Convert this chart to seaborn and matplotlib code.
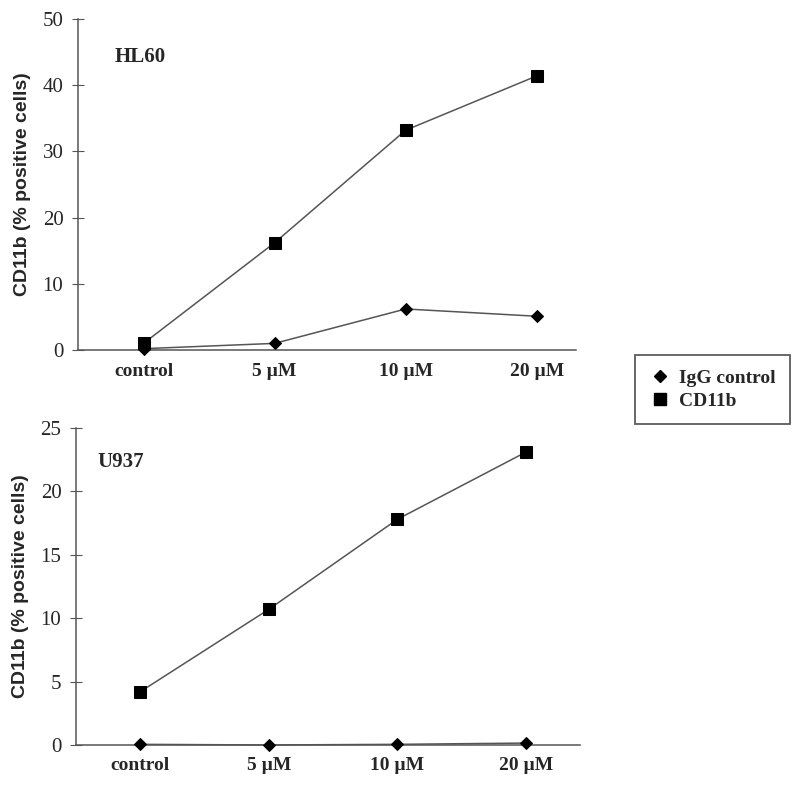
import numpy as np
import pandas as pd
import matplotlib
matplotlib.use('Agg')
import matplotlib.pyplot as plt
import seaborn as sns
from matplotlib.lines import Line2D

sns.set_style('white')
plt.rcParams['font.family'] = ['Liberation Serif', 'DejaVu Serif']

doses = ['control', '5 µM', '10 µM', '20 µM']
series_names = ['IgG control', 'CD11b']

hl60_igg = [0.2, 1.0, 6.2, 5.1]
hl60_cd11b = [1.0, 16.2, 33.2, 41.4]
u937_igg = [0.05, 0.0, 0.05, 0.15]
u937_cd11b = [4.2, 10.7, 17.8, 23.1]


def make_frame(igg, cd11b):
    rows = []
    for i, d in enumerate(doses):
        rows.append({'pos': i, 'dose': d, 'series': 'IgG control', 'value': igg[i]})
        rows.append({'pos': i, 'dose': d, 'series': 'CD11b', 'value': cd11b[i]})
    return pd.DataFrame(rows)


# name, data, ymax, ystep, xmax, label position
panels = [
    ('HL60', make_frame(hl60_igg, hl60_cd11b), 50, 10, 3.3, (0.074, 0.885)),
    ('U937', make_frame(u937_igg, u937_cd11b), 25, 5, 3.42, (0.042, 0.893)),
]

fig = plt.figure(figsize=(8, 7.86), dpi=100)
ax_top = fig.add_axes([0.0975, 0.5547, 0.6225, 0.4211])
ax_bot = fig.add_axes([0.095, 0.0522, 0.63, 0.4033])

markers = {'IgG control': 'D', 'CD11b': 's'}

for ax, (name, df, ymax, ystep, xmax, lpos) in zip([ax_top, ax_bot], panels):
    sns.lineplot(data=df, x='pos', y='value', style='series', markers=markers,
                 dashes=False, color='#555555', linewidth=1.1, markersize=8,
                 markeredgecolor='black', markerfacecolor='black',
                 legend=False, ax=ax, clip_on=False, zorder=3)
    for line in ax.get_lines():
        if line.get_marker() == 'D':
            line.set_markersize(6.5)
    ax.set_xlim(-0.5, xmax)
    ax.set_ylim(0, ymax)
    ax.set_yticks(np.arange(0, ymax + 1, ystep))
    ax.set_xticks(range(len(doses)))
    ax.set_xticklabels(doses, fontweight='bold', fontsize=14)
    ax.set_xticks([0.5, 1.5, 2.5], minor=True)
    ax.tick_params(axis='x', which='major', length=0, pad=9)
    ax.tick_params(axis='x', which='minor', length=8, direction='inout', width=0.8, color='#555555')
    ax.tick_params(axis='y', length=9, direction='inout', width=0.8, color='#555555',
                   labelsize=15, left=True, pad=6)
    for s in ['top', 'right']:
        ax.spines[s].set_visible(False)
    for s in ['left', 'bottom']:
        ax.spines[s].set_color('#555555')
        ax.spines[s].set_linewidth(1.1)
    ax.set_xlabel('')
    ax.set_ylabel('CD11b (% positive cells)', fontweight='bold', fontsize=14,
                  family=['Liberation Sans', 'DejaVu Sans'], labelpad=8)
    ax.text(lpos[0], lpos[1], name, transform=ax.transAxes, fontweight='bold',
            fontsize=15, va='center')

handles = [
    Line2D([], [], marker='D', color='black', linestyle='none', markersize=6.5),
    Line2D([], [], marker='s', color='black', linestyle='none', markersize=8.5),
]
leg = fig.legend(handles, series_names, loc='center', bbox_to_anchor=(0.891, 0.5045),
                 frameon=True, fancybox=False, edgecolor='#333333',
                 prop={'weight': 'bold', 'size': 14}, handletextpad=0.5,
                 borderpad=0.75, handlelength=1.0, labelspacing=0.25)
leg.get_frame().set_linewidth(1.3)

fig.savefig('out.png', dpi=100)
